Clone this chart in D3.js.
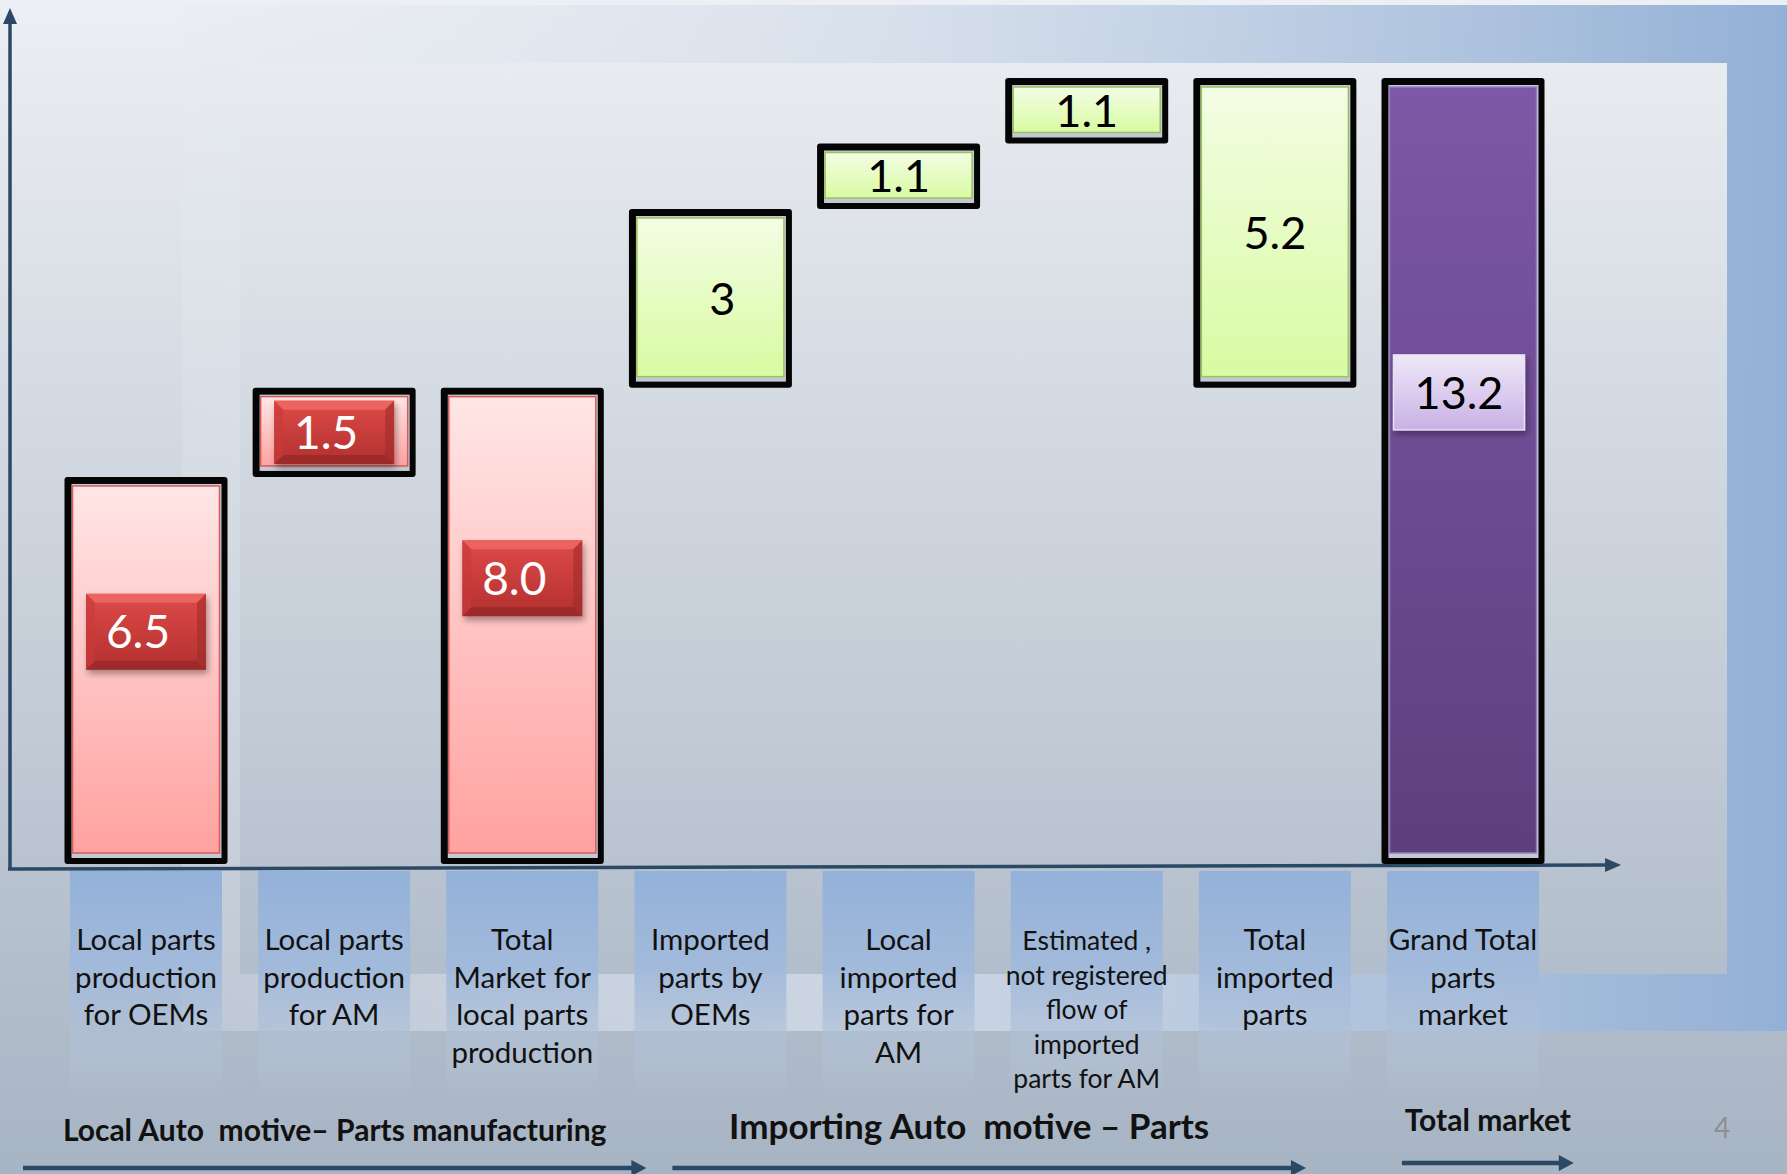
<!DOCTYPE html>
<html><head><meta charset="utf-8">
<script src="https://cdn.jsdelivr.net/npm/d3@7/dist/d3.min.js"></script>
<style>html,body{margin:0;padding:0;overflow:hidden;background:#dfe4ea} text{white-space:pre}</style>
</head><body>
<svg id="chart" width="1787" height="1174"></svg>
<script>
// ---------------- data ----------------
const categories = [
  "Local parts production for OEMs",
  "Local parts production for AM",
  "Total Market for local parts production",
  "Imported parts by OEMs",
  "Local imported parts for AM",
  "Estimated , not registered flow of imported parts for AM",
  "Total imported parts",
  "Grand Total parts market"
];
const categoryLines = [
  ["Local parts", "production", "for OEMs"],
  ["Local parts", "production", "for AM"],
  ["Total", "Market for", "local parts", "production"],
  ["Imported", "parts by", "OEMs"],
  ["Local", "imported", "parts for", "AM"],
  ["Estimated ,", "not registered", "flow of", "imported", "parts for AM"],
  ["Total", "imported", "parts"],
  ["Grand Total", "parts", "market"]
];
const values = [6.5, 1.5, 8.0, 3, 1.1, 1.1, 5.2, 13.2];
const valueLabels = ["6.5", "1.5", "8.0", "3", "1.1", "1.1", "5.2", "13.2"];
// delta = adds to running total, total = 0..running, groupTotal = group start..running
const barKinds = ["delta", "delta", "total", "delta", "delta", "delta", "groupTotal", "total"];
const groupNames = ["Local Auto  motive\u2013 Parts manufacturing", "Importing Auto  motive \u2013 Parts", "Total market"];
const groupOf = [0, 0, 0, 1, 1, 1, 1, 2];
const pageNumber = "4";

// ---------------- waterfall extents ----------------
let running = 0, groupStart = 0, lastGroup = -1;
const bars = categories.map((c, i) => {
  if (groupOf[i] !== lastGroup) { groupStart = running; lastGroup = groupOf[i]; }
  let base, top;
  if (barKinds[i] === "delta") { base = running; top = running + values[i]; running = top; }
  else if (barKinds[i] === "total") { base = 0; top = values[i]; }
  else { base = groupStart; top = groupStart + values[i]; }
  return { cat: c, i, base, top, group: groupOf[i], kind: barKinds[i], label: valueLabels[i] };
});

// ---------------- layout ----------------
const W = 1787, H = 1174;
const svg = d3.select("#chart");
const x = d3.scalePoint().domain(categories).range([146, 1463]);
const y = d3.scaleLinear().domain([0, 13.2]).range([864, 78]);
const barW = 163;
const step = x.step();
const FONT = "Lato, 'Open Sans', 'Noto Sans', sans-serif";
const axisColor = "#2b4864";

const defs = svg.append("defs");
function lin(id, stops, x1 = 0, y1 = 0, x2 = 0, y2 = 1, units) {
  const g = defs.append("linearGradient").attr("id", id)
    .attr("x1", x1).attr("y1", y1).attr("x2", x2).attr("y2", y2);
  if (units) g.attr("gradientUnits", units);
  stops.forEach(s => g.append("stop").attr("offset", s[0]).attr("stop-color", s[1]).attr("stop-opacity", s[2] === undefined ? 1 : s[2]));
}
lin("bg", [[0, "#eceff3"], [0.45, "#cdd4dd"], [1, "#a7b4c4"]]);
lin("frame", [[0, "#e6ebf1", 0.25], [0.45, "#d2dcea", 0.8], [1, "#93b0d6", 1]], 182, 0, 1787, 0, "userSpaceOnUse");
lin("pink", [[0, "#ffe6e6"], [1, "#ffa2a0"]]);
lin("green", [[0, "#f3fde4"], [1, "#d9fba2"]]);
lin("purple", [[0, "#7d58a6"], [1, "#5d3f7e"]]);
lin("red", [[0, "#de4a48"], [1, "#b2302f"]]);
lin("lilac", [[0, "#efe9f8"], [1, "#c8b1e6"]]);
lin("col", [[0, "#93b1d9", 1], [0.45, "#a2badb", 0.95], [0.85, "#b4c3d6", 0.45], [1, "#b4c3d6", 0]]);
const sh = defs.append("filter").attr("id", "shadow").attr("x", "-20%").attr("y", "-20%").attr("width", "150%").attr("height", "160%");
sh.append("feDropShadow").attr("dx", 2).attr("dy", 4).attr("stdDeviation", 3).attr("flood-color", "#000").attr("flood-opacity", 0.35);

// background
svg.append("rect").attr("width", W).attr("height", H).attr("fill", "url(#bg)");
// decorative frame band
svg.append("path")
  .attr("d", `M182,5H${W}V1031H182Z M240,63V974H1727V63Z`)
  .attr("fill", "url(#frame)").attr("fill-rule", "evenodd");

// ---------------- category label columns ----------------
const colW = 152;
const cols = svg.append("g");
bars.forEach(b => {
  const cx = x(b.cat);
  cols.append("rect").attr("x", cx - colW / 2).attr("y", y(0) + 7).attr("width", colW).attr("height", 225)
    .attr("fill", "url(#col)");
  const lines = categoryLines[b.i];
  const dense = lines.length > 4;
  const fs = dense ? 26.5 : 29.5, lh = dense ? 34.5 : 37.5;
  const t = cols.append("text").attr("text-anchor", "middle").attr("font-family", FONT)
    .attr("font-size", fs).attr("fill", "#111");
  lines.forEach((ln, k) => t.append("tspan").attr("x", cx).attr("y", 950 + k * lh).text(ln));
});

// ---------------- axes ----------------
const ax = svg.append("g");
ax.append("line").attr("x1", 10).attr("x2", 10).attr("y1", y(0) + 5).attr("y2", 22)
  .attr("stroke", axisColor).attr("stroke-width", 3.5);
ax.append("path").attr("d", "M10,8 L3,24 L17,24 Z").attr("fill", axisColor);
const xEnd = x(categories[categories.length - 1]) + step * 0.84;
ax.append("line").attr("x1", 8).attr("x2", xEnd - 12).attr("y1", y(0) + 5).attr("y2", y(0) + 1)
  .attr("stroke", axisColor).attr("stroke-width", 3.5);
ax.append("path").attr("d", `M${xEnd},${y(0) + 1} L${xEnd - 16},${y(0) - 6} L${xEnd - 16},${y(0) + 8} Z`).attr("fill", axisColor);

// ---------------- bars ----------------
const fills = ["pink", "green", "purple"];
const strokes = ["#d85a5a", "#9cc25e", "#9a7cc2"];
const g = svg.append("g");
bars.forEach(b => {
  const cx = x(b.cat);
  const y1 = y(b.top), y2 = y(b.base);
  const bx = cx - barW / 2;
  g.append("rect").attr("x", bx).attr("y", y1).attr("width", barW).attr("height", y2 - y1)
    .attr("fill", "#050505").attr("rx", 3);
  g.append("rect").attr("x", bx + 7).attr("y", y1 + 7).attr("width", barW - 13).attr("height", y2 - y1 - 13)
    .attr("fill", "#c3c9d2");
  g.append("rect").attr("x", bx + 8).attr("y", y1 + 9).attr("width", barW - 16).attr("height", y2 - y1 - 20)
    .attr("fill", `url(#${fills[b.group]})`).attr("stroke", strokes[b.group]).attr("stroke-width", 1.5);

  const tall = b.base === 0;
  const cy = tall ? y2 - (y2 - y1) * 0.6 : (y1 + y2) / 2;
  if (b.group === 0) {
    const bh = Math.min(76, y2 - y1 - 26), bw = 120;
    const lb = g.append("g").attr("filter", "url(#shadow)");
    lb.append("rect").attr("x", cx - bw / 2).attr("y", cy - bh / 2).attr("width", bw).attr("height", bh).attr("fill", "url(#red)");
    // bevel
    const l = cx - bw / 2, r = cx + bw / 2, t = cy - bh / 2, bo = cy + bh / 2, e = 9;
    lb.append("path").attr("d", `M${l},${t}H${r}L${r - e},${t + e}H${l + e}Z`).attr("fill", "#f06a66").attr("opacity", 0.8);
    lb.append("path").attr("d", `M${l},${bo}H${r}L${r - e},${bo - e}H${l + e}Z`).attr("fill", "#8e2525").attr("opacity", 0.6);
    lb.append("path").attr("d", `M${l},${t}V${bo}L${l + e},${bo - e}V${t + e}Z`).attr("fill", "#c83a3a").attr("opacity", 0.6);
    lb.append("path").attr("d", `M${r},${t}V${bo}L${r - e},${bo - e}V${t + e}Z`).attr("fill", "#a02c2c").attr("opacity", 0.6);
    g.append("text").attr("x", cx - 8).attr("y", cy).attr("dy", "0.36em").attr("text-anchor", "middle")
      .attr("font-family", FONT).attr("font-size", 46).attr("fill", "#fff").text(b.label);
  } else if (b.group === 2) {
    const bh = 75, bw = 131;
    g.append("rect").attr("x", cx - bw / 2 - 4).attr("y", cy - bh / 2).attr("width", bw).attr("height", bh)
      .attr("fill", "url(#lilac)").attr("stroke", "#e8e0f4").attr("stroke-width", 1.5).attr("filter", "url(#shadow)");
    g.append("text").attr("x", cx - 4).attr("y", cy).attr("dy", "0.36em").attr("text-anchor", "middle")
      .attr("font-family", FONT).attr("font-size", 45).attr("fill", "#000").text(b.label);
  } else {
    g.append("text").attr("x", cx + (b.label.length === 1 ? 12 : 0)).attr("y", cy).attr("dy", "0.36em").attr("text-anchor", "middle")
      .attr("font-family", FONT).attr("font-size", 45).attr("fill", "#000").text(b.label);
  }
});

// ---------------- group titles + arrows ----------------
const gg = svg.append("g");
const titleSizes = [30, 35, 30];
groupNames.forEach((name, gi) => {
  const members = bars.filter(b => b.group === gi);
  const first = x(members[0].cat), last = x(members[members.length - 1].cat);
  const start = gi === 0 ? 23 : first - step / 2 + (gi === 1 ? 56 : 33);
  const end = gi === groupNames.length - 1 ? last + barW * 0.68 : last + step / 2 + (gi === 0 ? 30 : -63);
  const ay = gi === 2 ? 1163 : 1168;
  gg.append("line").attr("x1", start).attr("x2", end - 12).attr("y1", ay).attr("y2", ay)
    .attr("stroke", axisColor).attr("stroke-width", 4.5);
  gg.append("path").attr("d", `M${end},${ay} L${end - 15},${ay - 8} L${end - 15},${ay + 8} Z`).attr("fill", axisColor);
  const tx = gi === 1 ? (start + end) / 2 - 20 : (start + end) / 2;
  gg.append("text").attr("x", tx).attr("y", gi === 2 ? 1131 : gi === 1 ? 1139 : 1141)
    .attr("text-anchor", "middle").attr("font-family", FONT).attr("font-weight", "bold")
    .attr("font-size", titleSizes[gi]).attr("fill", "#111").text(name);
});
svg.append("text").attr("x", 1722).attr("y", 1138).attr("text-anchor", "middle").attr("font-family", FONT)
  .attr("font-size", 28).attr("fill", "#8f8f8f").text(pageNumber);
</script>
</body></html>
